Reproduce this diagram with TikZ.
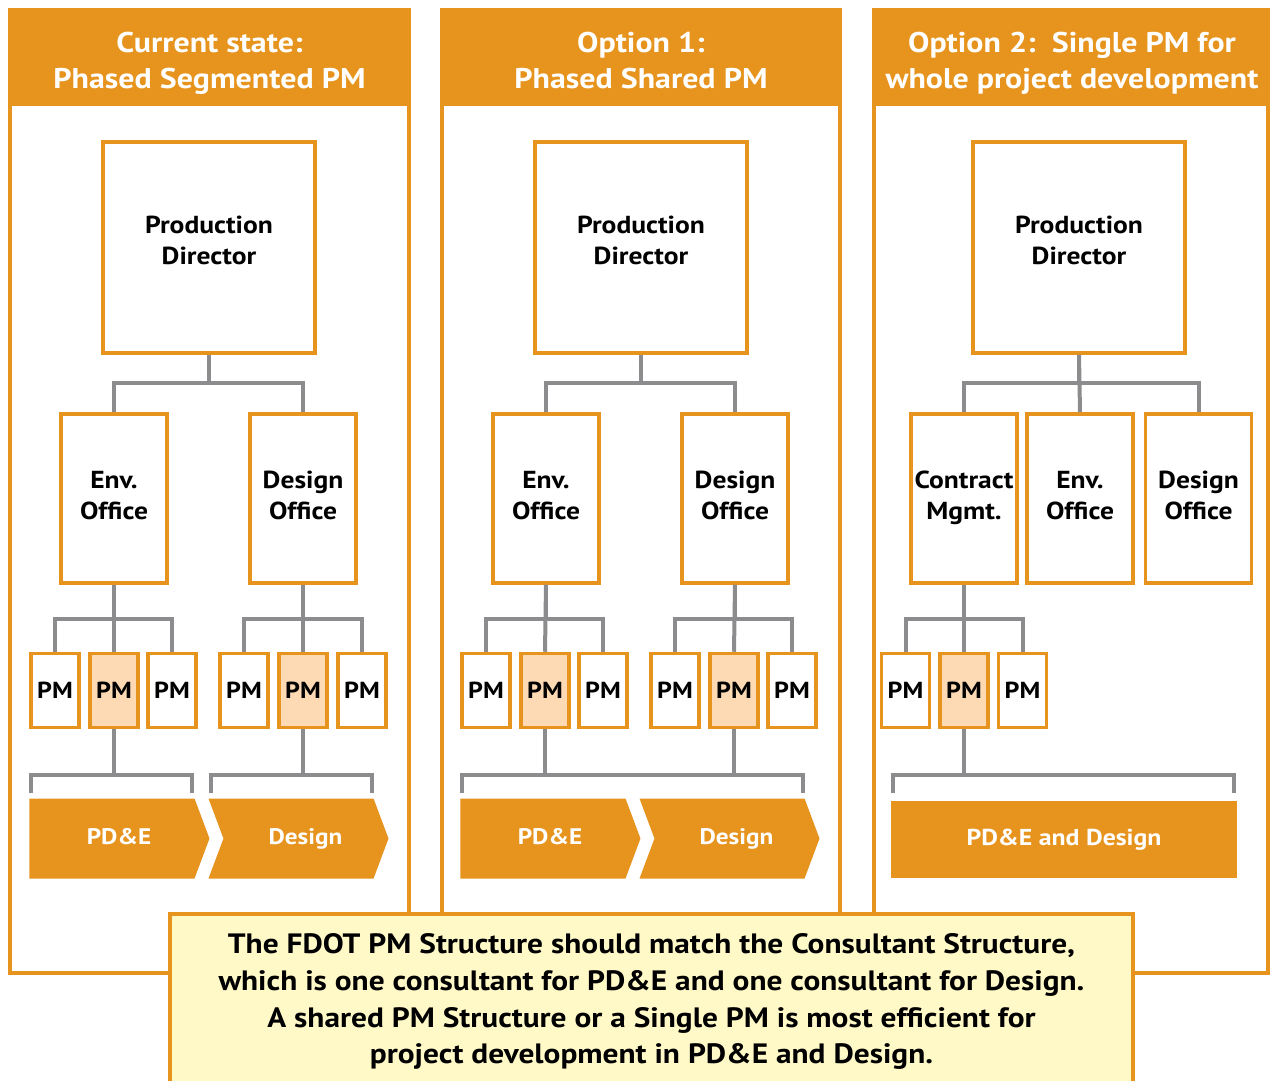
\documentclass[tikz,border=0pt]{standalone}
\usepackage{fontspec}
\setmainfont[FakeStretch=1.12]{PT Sans}
\usetikzlibrary{shapes.symbols,calc}
\definecolor{org}{RGB}{231,148,30}
\definecolor{peach}{RGB}{253,218,180}
\definecolor{lyel}{RGB}{255,249,200}
\definecolor{gry}{RGB}{140,140,142}
\newcommand\twol[3][0]{\strut #2\\#3\strut\rule[-\dimexpr0.3\baselineskip+#1pt\relax]{0pt}{0pt}}
\begin{document}
\begin{tikzpicture}[x=1pt,y=-1pt,
  frame/.style={draw=org, line width=4pt},
  hdrtext/.style={text=white, align=center, inner sep=0, font=\fontsize{28.5}{36}\selectfont\bfseries},
  ob/.style={draw=org, line width=3.5pt, fill=white, align=center, inner sep=0, font=\fontsize{24.6}{31}\selectfont\bfseries},
  pdbox/.style={ob, minimum width=212, minimum height=211},
  offbox/.style={ob, minimum width=106, minimum height=169},
  pmbox/.style={ob, minimum width=48, minimum height=74, font=\fontsize{23.2}{31}\selectfont\bfseries},
  pmhi/.style={pmbox, fill=peach},
  conn/.style={draw=gry, line width=4pt},
  phase/.style={shape=signal, fill=org, draw=none, inner sep=0, minimum height=80, minimum width=180, signal pointer angle=139, signal to=east, text=white, font=\fontsize{22.5}{31}\selectfont\bfseries},
  phasein/.style={phase, signal from=west},
]
\useasboundingbox (0,0) rectangle (1272,1081);
% panel frames
\draw[frame] (10,10) rectangle (409,973);
\draw[frame] (441.5,10) rectangle (840,973);
\draw[frame] (873.5,10) rectangle (1268,973);
\fill[org] (8,8) rectangle (411,106);
\fill[org] (439.5,8) rectangle (842,106);
\fill[org] (871.5,8) rectangle (1270,106);
\node[hdrtext] (h1) at (209.5,63) {\twol{Current state:}{Phased Segmented PM}};
\node[hdrtext] (h2) at (641,63) {\twol{Option 1:}{Phased Shared PM}};
\node[hdrtext] (h3) at (1072,63) {\twol{Option 2:\ \ Single PM for}{whole project development}};

% ===== Panel 1 =====
\node[pdbox] (pd1) at (209,247.5) {\twol[10]{Production}{Director}};
\node[offbox] (env1) at (114,498.5) {\twol[1]{Env.}{Office}};
\node[offbox] (des1) at (303,498.5) {\twol[1]{Design}{Office}};
\draw[conn] (pd1.south) -- ++(0,28) -| (env1.north);
\draw[conn] (pd1.south) -- ++(0,28) -| (des1.north);
\node[pmbox] (p1a) at (55,690.5) {PM};
\node[pmhi]  (p1b) at (114,690.5) {PM};
\node[pmbox] (p1c) at (172,690.5) {PM};
\node[pmbox] (p1d) at (244,690.5) {PM};
\node[pmhi]  (p1e) at (303,690.5) {PM};
\node[pmbox] (p1f) at (362,690.5) {PM};
\draw[conn] (env1.south) -- ++(0,34) -| (p1a.north);
\draw[conn] (env1.south) -- ++(0,34) -| (p1c.north);
\draw[conn] (env1.south) -- (p1b.north);
\draw[conn] (des1.south) -- ++(0,34) -| (p1d.north);
\draw[conn] (des1.south) -- ++(0,34) -| (p1f.north);
\draw[conn] (des1.south) -- (p1e.north);
\node[phase]   (a1) at (112,838.5) {\hspace*{14pt}\strut PD\&E};
\node[phasein] (a2) at (298.5,838.5) {\hspace*{14pt}\strut Design};
\coordinate (b1l) at (31,793);
\coordinate (b1r) at (192,793);
\coordinate (j1) at (114,775);
\coordinate (b2l) at (211,793);
\coordinate (b2r) at (372,793);
\coordinate (j2) at (303,775);
\draw[conn] (p1b.south) -- (j1);
\draw[conn] (b1l) |- (j1) -| (b1r);
\draw[conn] (p1e.south) -- (j2);
\draw[conn] (b2l) |- (j2) -| (b2r);

% ===== Panel 2 =====
\node[pdbox] (pd2) at (641,247.5) {\twol[10]{Production}{Director}};
\node[offbox] (env2) at (546,498.5) {\twol[1]{Env.}{Office}};
\node[offbox] (des2) at (735,498.5) {\twol[1]{Design}{Office}};
\draw[conn] (pd2.south) -- ++(0,28) -| (env2.north);
\draw[conn] (pd2.south) -- ++(0,28) -| (des2.north);
\node[pmbox] (p2a) at (486,690.5) {PM};
\node[pmhi]  (p2b) at (545,690.5) {PM};
\node[pmbox] (p2c) at (603,690.5) {PM};
\node[pmbox] (p2d) at (675,690.5) {PM};
\node[pmhi]  (p2e) at (734,690.5) {PM};
\node[pmbox] (p2f) at (792,690.5) {PM};
\draw[conn] (env2.south) -- ++(0,34) -| (p2a.north);
\draw[conn] (env2.south) -- ++(0,34) -| (p2c.north);
\draw[conn] (env2.south) -- (p2b.north);
\draw[conn] (des2.south) -- ++(0,34) -| (p2d.north);
\draw[conn] (des2.south) -- ++(0,34) -| (p2f.north);
\draw[conn] (des2.south) -- (p2e.north);
\node[phase]   (a3) at (543,838.5) {\hspace*{14pt}\strut PD\&E};
\node[phasein] (a4) at (729.5,838.5) {\hspace*{14pt}\strut Design};
\coordinate (b3l) at (462,793);
\coordinate (b3r) at (803,793);
\coordinate (j3) at (545,775);
\coordinate (j4) at (734,775);
\draw[conn] (p2b.south) -- (j3);
\draw[conn] (p2e.south) -- (j4);
\draw[conn] (b3l) |- (j3) -| (b3r);

% ===== Panel 3 =====
\node[pdbox] (pd3) at (1079,247.5) {\twol[10]{Production}{Director}};
\node[offbox] (cm3) at (964,498.5) {\twol[1]{Contract}{Mgmt.}};
\node[offbox] (env3) at (1080,498.5) {\twol[1]{Env.}{Office}};
\node[offbox] (des3) at (1198.5,498.5) {\twol[1]{Design}{Office}};
\draw[conn] (pd3.south) -- ++(0,28) -| (cm3.north);
\draw[conn] (pd3.south) -- ++(0,28) -| (des3.north);
\draw[conn] (pd3.south) -- (env3.north);
\node[pmbox] (p3a) at (905.5,690.5) {PM};
\node[pmhi]  (p3b) at (964,690.5) {PM};
\node[pmbox] (p3c) at (1022.5,690.5) {PM};
\draw[conn] (cm3.south) -- ++(0,34) -| (p3a.north);
\draw[conn] (cm3.south) -- ++(0,34) -| (p3c.north);
\draw[conn] (cm3.south) -- (p3b.north);
\node[fill=org, inner sep=0, minimum width=346, minimum height=77, text=white, font=\fontsize{23}{31}\selectfont\bfseries] (a5) at (1064,839) {\strut PD\&E and Design};
\coordinate (b5l) at (893,793);
\coordinate (b5r) at (1234,793);
\coordinate (j5) at (964,775);
\draw[conn] (p3b.south) -- (j5);
\draw[conn] (b5l) |- (j5) -| (b5r);

% ===== Bottom note =====
\fill[lyel] (170,914) rectangle (1133,1090);
\draw[org, line width=4pt] (170,1090) -- (170,914) -- (1133,914) -- (1133,1090);
\node[align=center, inner sep=0, font=\fontsize{28}{36.7}\selectfont\bfseries] (note) at (651.5,1001.5) {\strut The FDOT PM Structure should match the Consultant Structure,\\which is one consultant for PD\&E and one consultant for Design.\\A shared PM Structure or a Single PM is most efficient for\\project development in PD\&E and Design.\strut};
\end{tikzpicture}
\end{document}
